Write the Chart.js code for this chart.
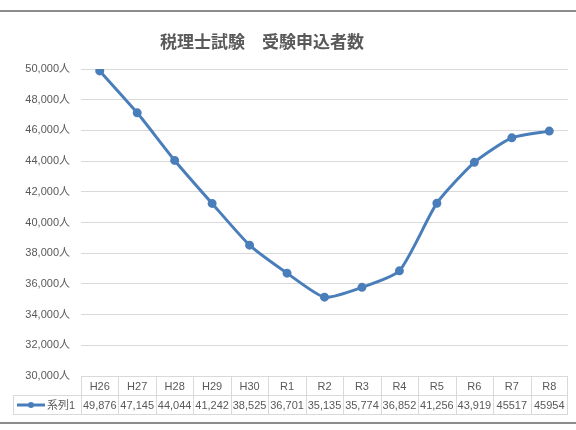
<!DOCTYPE html>
<html><head><meta charset="utf-8">
<script src="https://cdn.jsdelivr.net/npm/chart.js@4/dist/chart.umd.min.js"></script>
<style>html,body{margin:0;padding:0;background:#fff;}#wrap{width:576px;height:430px;}</style>
</head><body><div id="wrap"><canvas id="c" width="576" height="430"></canvas></div>
<script>
const categories = ["H26","H27","H28","H29","H30","R1","R2","R3","R4","R5","R6","R7","R8"];
const applicants = [49876,47145,44044,41242,38525,36701,35135,35774,36852,41256,43919,45517,45954];
const valueLabels = ["49,876","47,145","44,044","41,242","38,525","36,701","35,135","35,774","36,852","41,256","43,919","45517","45954"];
const seriesName = "系列1";
const chartTitle = "税理士試験　受験申込者数";
const yMin = 30000, yMax = 50000, yStep = 2000;

const FONT = "'Liberation Sans','Noto Sans CJK JP',sans-serif";
const TXT = "#595959";
const LINE = "#4a7ebb";
const GRID = "#d9d9d9";

const tablePlugin = {
  id: 'tablePlugin',
  beforeDraw(chart) {
    const ctx = chart.ctx;
    ctx.save();
    ctx.fillStyle = '#fff';
    ctx.fillRect(0, 0, chart.width, chart.height);
    ctx.fillStyle = '#8c8c8c';
    ctx.fillRect(0, 10, chart.width, 2);
    ctx.fillRect(0, 422, chart.width, 2);
    ctx.restore();
  },
  afterDraw(chart) {
    const ctx = chart.ctx;
    const x = chart.scales.x, ca = chart.chartArea;
    const n = categories.length;
    const w = (ca.right - ca.left) / n;
    const y0 = ca.bottom, y1 = y0 + 19, y2 = y1 + 19;
    const legL = 13;
    ctx.save();
    ctx.strokeStyle = GRID; ctx.lineWidth = 1;
    ctx.beginPath();
    ctx.moveTo(ca.left, y0 + 0.5); ctx.lineTo(ca.right, y0 + 0.5);
    ctx.moveTo(legL, y1 + 0.5); ctx.lineTo(ca.right, y1 + 0.5);
    ctx.moveTo(legL, y2 + 0.5); ctx.lineTo(ca.right, y2 + 0.5);
    ctx.moveTo(legL + 0.5, y1); ctx.lineTo(legL + 0.5, y2);
    for (let i = 0; i <= n; i++) {
      const xx = i === n ? Math.round(x.getPixelForValue(n - 1) + w / 2) - 0.5
                         : Math.round(x.getPixelForValue(i) - w / 2) + 0.5;
      ctx.moveTo(xx, y0); ctx.lineTo(xx, y2);
    }
    ctx.stroke();
    ctx.fillStyle = TXT;
    ctx.font = "11px " + FONT;
    ctx.textAlign = 'center'; ctx.textBaseline = 'middle';
    for (let i = 0; i < n; i++) {
      const cx = x.getPixelForValue(i);
      ctx.fillText(categories[i], cx, (y0 + y1) / 2 + 1);
      ctx.fillText(valueLabels[i], cx, (y1 + y2) / 2 + 1);
    }
    const ly = (y1 + y2) / 2 + 0.5;
    ctx.strokeStyle = LINE; ctx.lineWidth = 3;
    ctx.beginPath(); ctx.moveTo(17, ly); ctx.lineTo(45, ly); ctx.stroke();
    ctx.fillStyle = LINE;
    ctx.beginPath(); ctx.arc(31, ly, 3, 0, Math.PI * 2); ctx.fill();
    ctx.fillStyle = TXT; ctx.textAlign = 'left';
    ctx.fillText(seriesName, 47, ly + 0.5);
    ctx.font = "bold 17px 'Noto Sans CJK JP',sans-serif";
    ctx.textAlign = 'center';
    ctx.fillText(chartTitle, 262, 42);
    ctx.restore();
  }
};

new Chart(document.getElementById('c'), {
  type: 'line',
  data: {
    labels: categories,
    datasets: [{
      label: seriesName,
      data: applicants,
      borderColor: LINE,
      backgroundColor: LINE,
      borderWidth: 3,
      pointRadius: 3,
      pointBackgroundColor: LINE,
      pointBorderColor: LINE,
      tension: 0.2
    }]
  },
  options: {
    responsive: false,
    animation: false,
    devicePixelRatio: 1,
    layout: { padding: { left: 0, right: 8, top: 69, bottom: 54 } },
    plugins: { legend: { display: false }, title: { display: false }, tooltip: { enabled: false } },
    scales: {
      x: { type: 'category', offset: true, display: false },
      y: {
        min: yMin, max: yMax,
        border: { display: false },
        grid: { color: GRID, lineWidth: 1, drawTicks: false },
        afterFit(s) { s.width = 81; },
        ticks: {
          stepSize: yStep, padding: 11, color: TXT,
          font: { size: 11, family: FONT },
          callback: v => v.toLocaleString('en-US') + '人'
        }
      }
    }
  },
  plugins: [tablePlugin]
});
</script></body></html>
